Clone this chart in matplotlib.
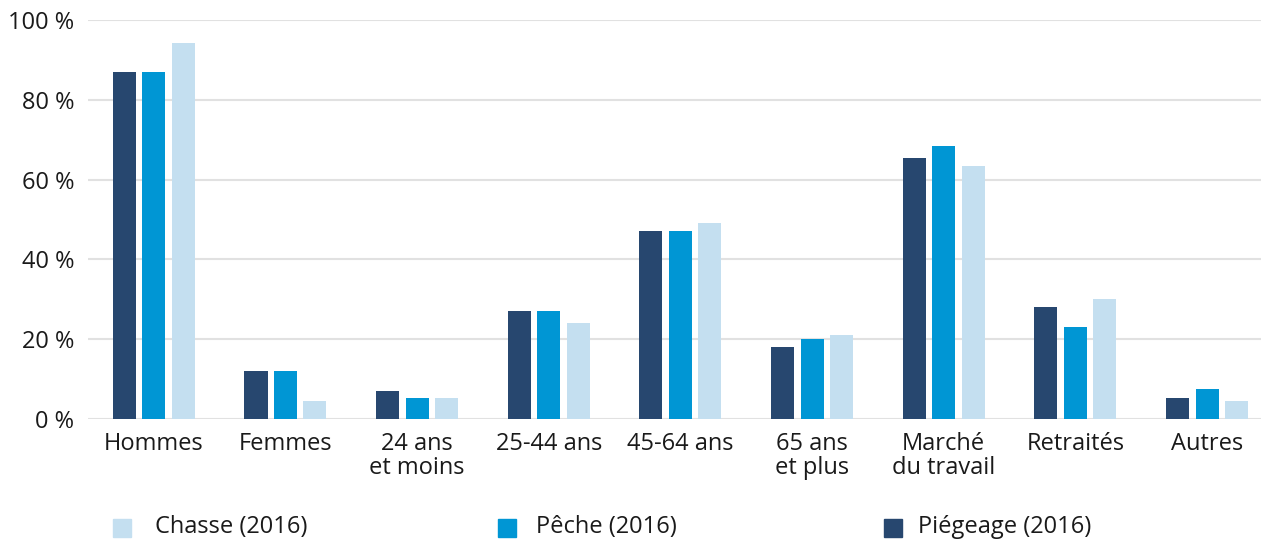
import matplotlib
matplotlib.use("Agg")
import matplotlib.pyplot as plt
from matplotlib.patches import Rectangle
import numpy as np

categories = ["Hommes", "Femmes", "24 ans\net moins", "25-44 ans", "45-64 ans",
              "65 ans\net plus", "Marché\ndu travail", "Retraités", "Autres"]
piegeage = [87, 12, 7, 27, 47, 18, 65.3, 28, 5.3]
peche = [87, 12, 5.3, 27, 47, 20, 68.5, 23, 7.5]
chasse = [94.3, 4.5, 5.3, 24, 49, 21, 63.4, 30.2, 4.4]
series_labels = ["Chasse (2016)", "Pêche (2016)", "Piégeage (2016)"]
yticks = [0, 20, 40, 60, 80, 100]
ytick_labels = ["0 %", "20 %", "40 %", "60 %", "80 %", "100 %"]

c_pieg = "#27476f"
c_peche = "#0096d4"
c_chasse = "#c4dff0"

plt.rcParams['font.family'] = ['Open Sans', 'DejaVu Sans']

fig = plt.figure(figsize=(12.61, 5.40), dpi=100)
ax = fig.add_axes([88/1261, 1-419/540, 1-88/1261, (419-20)/540])

x = np.arange(len(categories))
w = 0.175
pitch = 0.224
ax.bar(x - pitch, piegeage, w, color=c_pieg, zorder=3)
ax.bar(x, peche, w, color=c_peche, zorder=3)
ax.bar(x + pitch, chasse, w, color=c_chasse, zorder=3)

ax.set_xlim(-0.50, 8.41)
ax.set_ylim(0, 100)
ax.set_yticks(yticks)
ax.set_yticklabels(ytick_labels)
ax.set_xticks(x)
ax.set_xticklabels(categories, linespacing=1.0)
ax.tick_params(axis='both', length=0, labelsize=17, colors="#1a1a1a")
ax.tick_params(axis='y', pad=10)
ax.tick_params(axis='x', pad=9)
ax.grid(axis='y', color="#e1e1e1", linewidth=1.5, zorder=0)
for s in ax.spines.values():
    s.set_visible(False)
for lab in ax.get_yticklabels():
    lab.set_clip_on(False)

# legend
leg_items = [(113, c_chasse, 155), (498, c_peche, 536), (884, c_pieg, 918)]
for (sx, col, tx), lab in zip(leg_items, series_labels):
    fig.add_artist(Rectangle((sx/1261, 1-537/540), 18/1261, 18/540,
                             transform=fig.transFigure, color=col))
    fig.text(tx/1261, 1-527/540, lab, fontsize=17, va='center', ha='left',
             color="#1a1a1a")

fig.savefig("out.png", dpi=100)
